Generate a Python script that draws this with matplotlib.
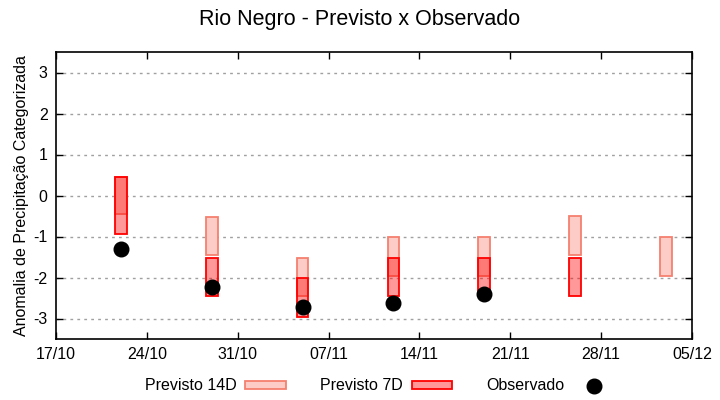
import matplotlib
matplotlib.use("Agg")
import matplotlib.pyplot as plt
import matplotlib.dates as mdates
from matplotlib.patches import Patch
from matplotlib.lines import Line2D
import datetime as dt

plt.rcParams['font.family'] = ['Liberation Sans', 'DejaVu Sans']

# Data
dates = ["2024-10-22", "2024-10-29", "2024-11-05", "2024-11-12",
         "2024-11-19", "2024-11-26", "2024-12-03"]
p14_low = [-0.45, -1.45, -2.45, -1.96, -1.96, -1.45, -1.96]
p14_high = [0.45, -0.52, -1.52, -1.01, -1.01, -0.51, -1.01]
p7_low = [-0.95, -2.45, -2.96, -2.45, -2.45, -2.45, None]
p7_high = [0.44, -1.52, -2.01, -1.52, -1.52, -1.52, None]
obs_dates = ["2024-10-22", "2024-10-29", "2024-11-05", "2024-11-12", "2024-11-19"]
obs_values = [-1.30, -2.22, -2.71, -2.62, -2.41]
xtick_labels = ["17/10", "24/10", "31/10", "07/11", "14/11", "21/11", "28/11", "05/12"]
yticks = [-3, -2, -1, 0, 1, 2, 3]

c14_face = '#fdccc7'
c14_edge = '#f5806f'
c7_face = (1.0, 0.0, 0.0, 0.4)
c7_edge = '#ff0000'
fs = 11.5

fig = plt.figure(figsize=(7.2, 4.0), dpi=100)
ax = fig.add_axes([56/720, 1-339/400, (692-56)/720, (339-52)/400])

x = [mdates.date2num(dt.datetime.fromisoformat(d)) for d in dates]
w = 0.9
for xi, lo, hi in zip(x, p14_low, p14_high):
    ax.bar(xi, hi - lo, bottom=lo, width=w, color=c14_face, edgecolor=c14_edge,
           linewidth=1.3, zorder=2)
for xi, lo, hi in zip(x, p7_low, p7_high):
    if lo is None:
        continue
    ax.bar(xi, hi - lo, bottom=lo, width=w, color=c7_face, edgecolor=c7_edge,
           linewidth=1.3, zorder=3)

xo = [mdates.date2num(dt.datetime.fromisoformat(d)) for d in obs_dates]
ax.plot(xo, obs_values, 'o', color='black', markersize=10.5, zorder=4, linestyle='none')

x0 = mdates.date2num(dt.datetime(2024, 10, 17))
x1 = mdates.date2num(dt.datetime(2024, 12, 5))
ax.set_xlim(x0, x1)
ax.set_ylim(-3.5, 3.5)
ticks = [x0 + 7*i for i in range(8)]
ax.set_xticks(ticks)
ax.set_xticklabels(xtick_labels)
ax.set_yticks(yticks)
ax.set_yticklabels([str(v) for v in yticks])
ax.tick_params(direction='in', top=True, right=True, length=5, width=1,
               labelsize=fs, pad=6)
ax.grid(axis='y', linestyle=(0, (2, 3)), color='#a0a0a0', linewidth=1)
ax.set_axisbelow(True)
for s in ax.spines.values():
    s.set_linewidth(1.2)

ax.set_ylabel('Anomalia de Precipitação Categorizada', fontsize=fs, labelpad=3)
fig.text(0.5, 1-20/400, 'Rio Negro - Previsto x Observado', ha='center', va='center',
         fontsize=15.5)

handles = [Patch(facecolor=c14_face, edgecolor=c14_edge, linewidth=1.3),
           Patch(facecolor=c7_face, edgecolor=c7_edge, linewidth=1.3),
           Line2D([], [], marker='o', color='black', linestyle='none', markersize=10.5)]
fig.legend(handles, ['Previsto 14D', 'Previsto 7D', 'Observado'], loc='center',
           bbox_to_anchor=(0.527, 1-386/400), ncol=3, frameon=False, markerfirst=False,
           fontsize=fs, handlelength=2.55, handleheight=0.4, columnspacing=2.15,
           handletextpad=0.55)

fig.savefig('out.png', dpi=100)
